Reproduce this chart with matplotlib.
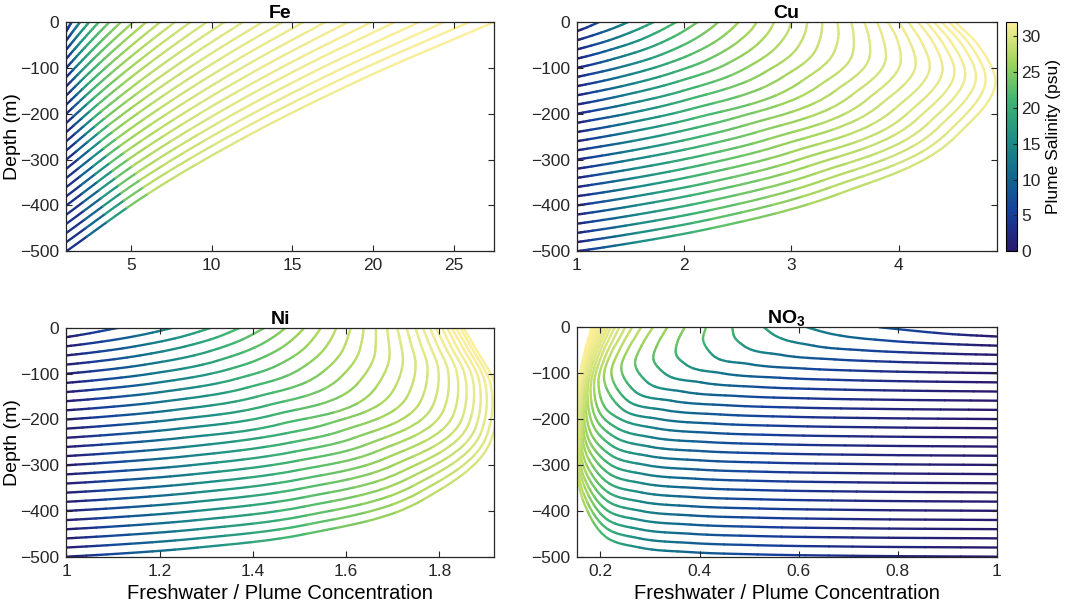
import numpy as np
import matplotlib
matplotlib.use('Agg')
import matplotlib.pyplot as plt
from matplotlib.colors import LinearSegmentedColormap, Normalize
from matplotlib.collections import PatchCollection
from matplotlib.patches import PathPatch
from matplotlib.path import Path
import matplotlib.cm as cm

plt.rcParams['font.family'] = ['Liberation Sans', 'DejaVu Sans']
plt.rcParams['mathtext.fontset'] = 'custom'
plt.rcParams['mathtext.rm'] = 'Liberation Sans'
plt.rcParams['mathtext.bf'] = 'Liberation Sans:bold'

# ---------------- data ----------------
# plume source depths (m); each plume rises to the surface
SOURCE_DEPTHS = [-20, -40, -60, -80, -100, -120, -140, -160, -180, -200, -220, -240, -260,
                 -280, -300, -320, -340, -360, -380, -400, -420, -440, -460, -480, -500]

# Fe ratio at 1/4, 1/2, 3/4 of the rise and at the surface
FE_QUARTERS = [
    [1.08, 1.16, 1.25], [1.21, 1.42, 1.64], [1.35, 1.70, 2.06], [1.49, 1.99, 2.50],
    [1.64, 2.30, 2.98], [1.81, 2.64, 3.50], [1.98, 2.99, 4.05], [2.15, 3.36, 4.63],
    [2.34, 3.75, 5.25], [2.53, 4.16, 5.90], [2.73, 4.59, 6.58], [2.94, 5.03, 7.29],
    [3.16, 5.51, 8.06], [3.38, 6.00, 8.86], [3.61, 6.51, 9.69], [3.85, 7.03, 10.55],
    [4.09, 7.57, 11.44], [4.33, 8.12, 12.36], [4.58, 8.68, 13.30], [4.83, 9.25, 14.28],
    [5.07, 9.82, 15.24], [5.32, 10.40, 16.24], [5.56, 10.98, 17.26], [5.80, 11.56, 18.28],
    [6.04, 12.13, 19.28],
]
FE_SURFACE = [1.33, 1.85, 2.42, 3.02, 3.68, 4.39, 5.15, 5.96, 6.82, 7.73, 8.69, 9.70, 10.80,
              11.95, 13.15, 14.40, 15.70, 17.05, 18.45, 19.90, 21.35, 22.85, 24.40, 25.95, 27.50]

# Cu and Ni ratios at heights 5, 20, 50 m above the source and 1/4, 1/2, 3/4, 9/10 of the rise, surface
CU = [
    [1.06, 1.21],
    [1.07, 1.38, 1.48],
    [1.08, 1.30, 1.58, 1.72],
    [1.09, 1.32, 1.58, 1.77, 1.93],
    [1.10, 1.35, 1.74, 1.96, 2.13],
    [1.10, 1.38, 1.80, 2.15, 2.26, 2.32],
    [1.11, 1.40, 1.85, 2.07, 2.34, 2.45, 2.51],
    [1.11, 1.42, 1.90, 2.24, 2.52, 2.63, 2.68],
    [1.12, 1.43, 1.94, 2.41, 2.70, 2.80, 2.84],
    [1.12, 1.45, 1.99, 2.58, 2.88, 2.97, 3.00],
    [1.12, 1.47, 2.02, 2.75, 3.06, 3.13, 3.15],
    [1.13, 1.48, 2.06, 2.92, 3.23, 3.28, 3.29],
    [1.13, 1.49, 2.09, 3.09, 3.40, 3.44, 3.43],
    [1.13, 1.51, 2.12, 2.46, 3.25, 3.57, 3.58, 3.56],
    [1.14, 1.52, 2.15, 2.57, 3.41, 3.73, 3.72, 3.68],
    [1.14, 1.52, 2.17, 2.68, 3.56, 3.88, 3.85, 3.80],
    [1.14, 1.53, 2.19, 2.79, 3.70, 4.02, 3.98, 3.90],
    [1.14, 1.54, 2.20, 2.88, 3.83, 4.16, 4.09, 4.00],
    [1.15, 1.55, 2.21, 2.98, 3.96, 4.29, 4.20, 4.09],
    [1.15, 1.55, 2.23, 3.07, 4.08, 4.41, 4.31, 4.18],
    [1.15, 1.55, 2.23, 3.15, 4.18, 4.52, 4.40, 4.26],
    [1.15, 1.56, 2.24, 3.23, 4.28, 4.62, 4.49, 4.33],
    [1.15, 1.56, 2.25, 3.30, 4.37, 4.72, 4.58, 4.40],
    [1.15, 1.56, 2.25, 3.37, 4.46, 4.81, 4.66, 4.47],
    [1.15, 1.56, 2.25, 3.44, 4.53, 4.90, 4.74, 4.53],
]
NI = [
    [1.031, 1.110],
    [1.040, 1.185, 1.226],
    [1.044, 1.148, 1.262, 1.309],
    [1.048, 1.158, 1.256, 1.324, 1.372],
    [1.051, 1.169, 1.310, 1.378, 1.425],
    [1.055, 1.181, 1.329, 1.428, 1.455, 1.470],
    [1.058, 1.192, 1.349, 1.409, 1.473, 1.497, 1.510],
    [1.062, 1.203, 1.369, 1.456, 1.515, 1.535, 1.546],
    [1.065, 1.214, 1.389, 1.501, 1.554, 1.571, 1.579],
    [1.068, 1.225, 1.409, 1.545, 1.592, 1.604, 1.610],
    [1.071, 1.234, 1.428, 1.586, 1.627, 1.635, 1.638],
    [1.073, 1.242, 1.444, 1.626, 1.661, 1.664, 1.664],
    [1.076, 1.250, 1.459, 1.664, 1.693, 1.691, 1.688],
    [1.078, 1.256, 1.472, 1.559, 1.699, 1.722, 1.716, 1.710],
    [1.080, 1.262, 1.483, 1.590, 1.731, 1.749, 1.738, 1.730],
    [1.081, 1.267, 1.491, 1.618, 1.760, 1.774, 1.759, 1.749],
    [1.082, 1.270, 1.497, 1.643, 1.786, 1.797, 1.778, 1.765],
    [1.083, 1.273, 1.501, 1.665, 1.809, 1.818, 1.795, 1.780],
    [1.084, 1.275, 1.505, 1.684, 1.830, 1.837, 1.811, 1.793],
    [1.085, 1.278, 1.508, 1.701, 1.848, 1.854, 1.825, 1.806],
    [1.085, 1.279, 1.510, 1.717, 1.863, 1.870, 1.838, 1.817],
    [1.086, 1.280, 1.512, 1.731, 1.877, 1.884, 1.851, 1.827],
    [1.086, 1.282, 1.514, 1.744, 1.889, 1.897, 1.862, 1.836],
    [1.087, 1.282, 1.515, 1.756, 1.900, 1.909, 1.872, 1.845],
    [1.087, 1.282, 1.515, 1.766, 1.909, 1.920, 1.881, 1.852],
]
# NO3 ratios at heights 2, 5, 10, 20, 40 m above the source and 1/4, 1/2, 3/4, 9/10 of the rise, surface
NO3 = [
    [0.960, 0.911, 0.763],
    [0.940, 0.871, 0.790, 0.649, 0.617],
    [0.916, 0.826, 0.729, 0.630, 0.548, 0.530],
    [0.894, 0.784, 0.673, 0.564, 0.489, 0.470, 0.466],
    [0.864, 0.734, 0.612, 0.500, 0.426, 0.407, 0.413],
    [0.839, 0.693, 0.562, 0.445, 0.371, 0.353, 0.356, 0.364, 0.370],
    [0.813, 0.654, 0.518, 0.403, 0.329, 0.307, 0.316, 0.327, 0.335],
    [0.790, 0.620, 0.481, 0.366, 0.295, 0.270, 0.283, 0.296, 0.306],
    [0.774, 0.597, 0.456, 0.343, 0.270, 0.242, 0.257, 0.272, 0.282],
    [0.763, 0.583, 0.442, 0.328, 0.255, 0.222, 0.238, 0.253, 0.264],
    [0.755, 0.573, 0.431, 0.319, 0.246, 0.207, 0.222, 0.239, 0.250],
    [0.748, 0.563, 0.422, 0.312, 0.240, 0.213, 0.196, 0.211, 0.227, 0.238],
    [0.740, 0.554, 0.414, 0.304, 0.234, 0.204, 0.187, 0.201, 0.217, 0.229],
    [0.735, 0.547, 0.407, 0.299, 0.230, 0.197, 0.180, 0.193, 0.209, 0.221],
    [0.729, 0.540, 0.401, 0.295, 0.226, 0.191, 0.174, 0.186, 0.202, 0.215],
    [0.725, 0.535, 0.397, 0.291, 0.223, 0.185, 0.170, 0.180, 0.196, 0.209],
    [0.721, 0.530, 0.392, 0.288, 0.221, 0.181, 0.166, 0.176, 0.191, 0.204],
    [0.717, 0.526, 0.389, 0.285, 0.219, 0.178, 0.163, 0.172, 0.187, 0.200],
    [0.715, 0.524, 0.386, 0.283, 0.217, 0.175, 0.161, 0.168, 0.184, 0.196],
    [0.713, 0.521, 0.384, 0.282, 0.216, 0.172, 0.159, 0.165, 0.180, 0.193],
    [0.712, 0.520, 0.383, 0.281, 0.216, 0.170, 0.157, 0.163, 0.177, 0.191],
    [0.710, 0.519, 0.382, 0.280, 0.215, 0.168, 0.156, 0.161, 0.175, 0.188],
    [0.709, 0.517, 0.381, 0.279, 0.215, 0.167, 0.155, 0.159, 0.173, 0.186],
    [0.709, 0.517, 0.381, 0.279, 0.215, 0.165, 0.154, 0.157, 0.171, 0.184],
    [0.709, 0.517, 0.381, 0.279, 0.215, 0.164, 0.153, 0.155, 0.169, 0.182],
]

PANELS = ['Fe', 'Cu', 'Ni', 'NO3']
TITLES = {'Fe': 'Fe', 'Cu': 'Cu', 'Ni': 'Ni', 'NO3': r'$\mathbf{NO_3}$'}
X_LIMITS = {'Fe': (1, 27.5), 'Cu': (1, 4.914), 'Ni': (1, 1.918), 'NO3': (0.152, 1)}
X_TICKS = {'Fe': [5, 10, 15, 20, 25], 'Cu': [1, 2, 3, 4], 'Ni': [1, 1.2, 1.4, 1.6, 1.8], 'NO3': [0.2, 0.4, 0.6, 0.8, 1]}
Y_TICKS = [-500, -400, -300, -200, -100, 0]
CBAR_TICKS = [0, 5, 10, 15, 20, 25, 30]
SEA_SALINITY = 33.2
SAL_MAX = 32

# ---------------- sampling structure of the tables ----------------
FE_FRACTIONS = (0.25, 0.5, 0.75)
NEAR_CUNI = (5, 20, 50)
NEAR_NO3 = (2, 5, 10, 20, 40)

def heights(L, near, gap=15, fr=(0.25, 0.5, 0.75, 0.9)):
    pts = [h for h in near if h < 0.5 * L]
    for t in fr:
        h = t * L
        if h > (pts[-1] if pts else 0) + gap and L - h > 1:
            pts.append(h)
    return pts + [L]

def panel_points(name, i):
    d = float(SOURCE_DEPTHS[i]); L = -d
    if name == 'Fe':
        return [1.0] + FE_QUARTERS[i] + [FE_SURFACE[i]], [d] + [d + t * L for t in FE_FRACTIONS] + [0.0]
    if name == 'NO3':
        return [1.0] + NO3[i], [d] + [d + h for h in heights(L, NEAR_NO3)]
    vals = CU[i] if name == 'Cu' else NI[i]
    return [1.0] + vals, [d] + [d + h for h in heights(L, NEAR_CUNI)]

def salinity(i, zs):
    fx, fz = panel_points('Fe', i)
    return SEA_SALINITY * (1 - 1 / np.interp(zs, fz, fx))

# ---------------- drawing ----------------
cmap = LinearSegmentedColormap.from_list('haline', ['#2a186c', '#15409c', '#126a8e', '#1f9185', '#42b670', '#a5d65b', '#fdef9a'])
norm = Normalize(0, SAL_MAX)

def blossom(P, a, b, c):
    q = [(1 - a) * P[j] + a * P[j + 1] for j in range(3)]
    r = [(1 - b) * q[j] + b * q[j + 1] for j in range(2)]
    return (1 - c) * r[0] + c * r[1]

def draw_curves(ax, curves, xlim, wpx, hpx):
    patches, cols = [], []
    sx = wpx / (xlim[1] - xlim[0]); sy = hpx / 500.0
    for xs, zs, ss in curves:
        P = np.column_stack([(np.asarray(xs) - xlim[0]) * sx, np.asarray(zs) * sy])
        n = len(P)
        dt = np.maximum(np.hypot(*np.diff(P, axis=0).T), 1e-6)
        M = np.zeros_like(P)
        M[0] = (P[1] - P[0]) / dt[0]; M[-1] = (P[-1] - P[-2]) / dt[-1]
        for j in range(1, n - 1):
            g0 = (P[j] - P[j - 1]) / dt[j - 1]; g1 = (P[j + 1] - P[j]) / dt[j]
            M[j] = (g0 * dt[j] + g1 * dt[j - 1]) / (dt[j - 1] + dt[j])
        for j in range(n - 1):
            ctrl = [P[j], P[j] + M[j] * dt[j] / 3, P[j + 1] - M[j + 1] * dt[j] / 3, P[j + 1]]
            for q in range(4):
                t0, t1 = q / 4.0, (q + 1) / 4.0
                v = np.array([blossom(ctrl, t0, t0, t0), blossom(ctrl, t0, t0, t1),
                              blossom(ctrl, t0, t1, t1), blossom(ctrl, t1, t1, t1)])
                v = np.column_stack([v[:, 0] / sx + xlim[0], v[:, 1] / sy])
                patches.append(PathPatch(Path(v, [Path.MOVETO, Path.CURVE4, Path.CURVE4, Path.CURVE4])))
                cols.append(cmap(norm(ss[j] + (ss[j + 1] - ss[j]) * (t0 + t1) / 2)))
    pc = PatchCollection(patches, facecolors='none', edgecolors=cols, linewidths=1.7)
    pc.set_capstyle('round')
    ax.add_collection(pc)

fig = plt.figure(figsize=(10.72, 6.06), dpi=100)
W_, H_ = 1072.0, 606.0
BOXES = {'Fe': (66.3, 22, 494.3, 251.3), 'Cu': (576.7, 22, 996.7, 251.3),
         'Ni': (66.3, 328, 494.3, 556.7), 'NO3': (576.7, 327.3, 996.7, 556.7)}
axes = {}
for name in PANELS:
    l, t, r, b = BOXES[name]
    ax = fig.add_axes([l / W_, 1 - b / H_, (r - l) / W_, (b - t) / H_])
    axes[name] = ax
    curves = []
    for i in range(len(SOURCE_DEPTHS)):
        xs, zs = panel_points(name, i)
        curves.append((xs, zs, salinity(i, zs)))
    draw_curves(ax, curves, X_LIMITS[name], r - l, b - t)
    ax.set_xlim(*X_LIMITS[name]); ax.set_ylim(-500, 0)
    ax.set_xticks(X_TICKS[name]); ax.set_xticklabels(['%g' % v for v in X_TICKS[name]])
    ax.set_yticks(Y_TICKS)
    ax.tick_params(direction='in', top=True, right=True, length=4, width=0.8,
                   labelsize=12.5, colors='#262626', pad=5)
    for sp in ax.spines.values():
        sp.set_linewidth(0.9); sp.set_color('#262626')
    ax.set_title(TITLES[name], fontsize=14, fontweight='bold', pad=3)

for name in ('Fe', 'Ni'):
    axes[name].set_ylabel('Depth (m)', fontsize=14)
    axes[name].yaxis.set_label_coords(-0.105, 0.5)
for name in ('Ni', 'NO3'):
    axes[name].set_xlabel('Freshwater / Plume Concentration', fontsize=14.5)

cax = fig.add_axes([1006 / W_, 1 - 251.3 / H_, 10.5 / W_, 229.3 / H_])
cb = fig.colorbar(cm.ScalarMappable(norm=norm, cmap=cmap), cax=cax, ticks=CBAR_TICKS)
cb.outline.set_linewidth(0.8)
cax.tick_params(labelsize=12.5, length=3, direction='in', colors='#262626')
cb.set_label('Plume Salinity (psu)', fontsize=12.5)

fig.savefig('out.png', dpi=100)
